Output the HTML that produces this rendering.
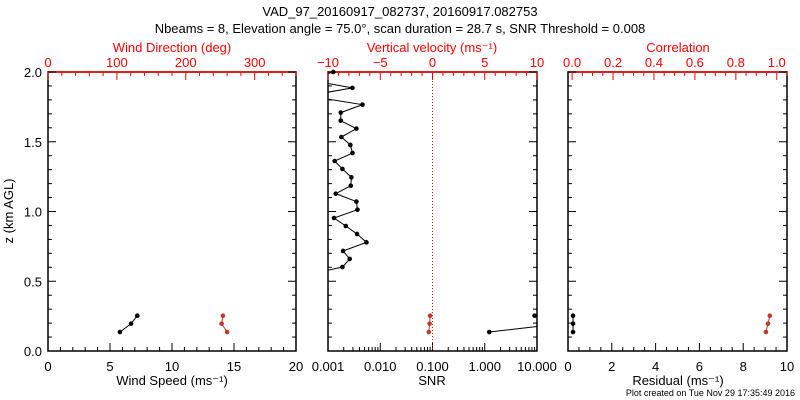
<!DOCTYPE html>
<html><head><meta charset="utf-8"><style>
body{margin:0;background:#fff;}
svg{display:block;font-family:"Liberation Sans",sans-serif;}
</style></head><body>
<svg id="c" width="800" height="400" viewBox="0 0 800 400">
<text x="400" y="16" text-anchor="middle" font-size="13">VAD_97_20160917_082737, 20160917.082753</text>
<text x="400" y="33" text-anchor="middle" font-size="13">Nbeams = 8, Elevation angle = 75.0°, scan duration = 28.7 s, SNR Threshold = 0.008</text>
<text x="795" y="396" text-anchor="end" font-size="9">Plot created on Tue Nov 29 17:35:49 2016</text>
</svg>
<script>
const heights=[0.136,0.196,0.253];
const windSpeed=[5.8,6.7,7.2];
const windDir=[260,252,254];
const snr=[1.22,30,9.0];
const snrRed=[0.085,0.088,0.09];
const residual=[0.23,0.23,0.23];
const correlation=[0.947,0.957,0.966];
const wHeights=[0.545,0.602,0.660,0.717,0.779,0.839,0.896,0.953,1.013,1.071,1.128,1.185,1.245,1.305,1.362,1.419,1.477,1.534,1.594,1.651,1.709,1.766,1.829,1.886,1.944,2.0];
const wVals=[-12,-8.62,-7.92,-8.56,-6.32,-7.22,-8.30,-9.42,-7.18,-7.28,-9.26,-7.82,-7.76,-8.62,-9.36,-7.66,-7.86,-8.72,-7.28,-8.78,-8.78,-6.70,-12,-7.66,-12,-9.5];

const svg=document.getElementById('c');
const NS='http://www.w3.org/2000/svg';
function mk(tag,attrs,name){const e=document.createElementNS(NS,tag);for(const k in attrs)e.setAttribute(k,attrs[k]);


svg.appendChild(e);return e;}
const Y0=351,Y1=72;
const yS=z=>Y0-(z/2)*(Y0-Y1);
const P=[{x0:48,x1:296},{x0:328,x1:537},{x0:568,x1:787}];
function txt(x,y,s,opt,name){const t=mk('text',Object.assign({x:x,y:y,'font-size':13,'text-anchor':'middle'},opt||{}),name);t.textContent=s;return t;}
function line(x1,y1,x2,y2,col,name,extra){return mk('line',Object.assign({x1,y1,x2,y2,stroke:col,'stroke-width':1},extra||{}),name);}

P.forEach((p,i)=>{
  mk('rect',{x:p.x0,y:Y1,width:p.x1-p.x0,height:Y0-Y1,fill:'none',stroke:'#000','stroke-width':1.5},'panel-frame-'+(i+1));
  line(p.x0,Y1,p.x1,Y1,'#f00','top-axis-line-'+(i+1),{'stroke-width':1.5});
  for(let k=0;k<=20;k++){const z=k*0.1,y=yS(z),L=(k%5==0)?8:4;
    line(p.x0,y,p.x0+L,y,'#000','y-tick');line(p.x1,y,p.x1-L,y,'#000','y-tick');}
});
for(let k=0;k<=4;k++){txt(42,yS(k*0.5)+5,(k*0.5).toFixed(1),{'text-anchor':'end'},'y-tick-label');}
txt(0,0,'z (km AGL)',{transform:'translate(13,211) rotate(-90)'},'y-axis-title');

function linAxis(p,lo,hi,maj,min,top,col,labels,fmt,name,start){
  const s=v=>p.x0+(v-lo)/(hi-lo)*(p.x1-p.x0);
  const y=top?Y1:Y0,d=top?1:-1;
  const st=(start===undefined)?lo:start;
  for(let v=st;v<=hi+1e-9;v+=min){const r=(v-st)/maj;const isM=Math.abs(r-Math.round(r))<1e-6;
    line(s(v),y,s(v),y+d*(isM?8:4),col,name+'-tick');}
  labels.forEach(v=>txt(s(v),top?Y1-5:Y0+20,fmt(v),{fill:col},name+'-label'));
  return s;
}
const sWS=linAxis(P[0],0,20,5,1,false,'#000',[0,5,10,15,20],v=>String(v),'wind-speed-axis');
const sWD=linAxis(P[0],0,360,100,20,true,'#f00',[0,100,200,300],v=>String(v),'wind-dir-axis');
const sW=linAxis(P[1],-10,10,5,1,true,'#f00',[-10,-5,0,5,10],v=>v<0?'\u2212'+(-v):String(v),'vert-vel-axis');
const sR=linAxis(P[2],0,10,2,0.5,false,'#000',[0,2,4,6,8,10],v=>String(v),'residual-axis');
const sC=linAxis(P[2],-0.02,1.05,0.2,0.05,true,'#f00',[0,0.2,0.4,0.6,0.8,1.0],v=>v.toFixed(1),'correlation-axis',0);
const p1=P[1];
const sS=v=>p1.x0+(Math.log10(v)+3)/4*(p1.x1-p1.x0);
for(let d=-3;d<1;d++){for(let m=1;m<10;m++){const v=m*Math.pow(10,d);line(sS(v),Y0,sS(v),Y0-(m==1?8:4),'#000','snr-tick');}}
line(sS(10),Y0,sS(10),Y0-8,'#000','snr-tick');
['0.001','0.010','0.100','1.000','10.000'].forEach(s=>txt(sS(parseFloat(s)),Y0+20,s,{},'snr-tick-label'));

txt(172,52,'Wind Direction (deg)',{fill:'#f00'},'wind-direction-title');
txt(432,52,'Vertical velocity (ms\u207B\u00B9)',{fill:'#f00'},'vertical-velocity-title');
txt(678,52,'Correlation',{fill:'#f00'},'correlation-title');
txt(172,385,'Wind Speed (ms\u207B\u00B9)',{},'wind-speed-title');
txt(432,385,'SNR',{},'snr-title');
txt(678,385,'Residual (ms\u207B\u00B9)',{},'residual-title');

line(sW(0),Y1,sW(0),Y0,'#f00','zero-velocity-line',{'stroke-dasharray':'1,2'});

const defs=mk('defs',{},'defs');
const cp=document.createElementNS(NS,'clipPath');cp.setAttribute('id','cp');
const cr=document.createElementNS(NS,'rect');cr.setAttribute('x',p1.x0);cr.setAttribute('y',Y1);cr.setAttribute('width',p1.x1-p1.x0);cr.setAttribute('height',Y0-Y1);
cp.appendChild(cr);defs.appendChild(cp);

function series(xs,zs,sx,col,name,clip){
  const pts=xs.map((v,i)=>[sx(v),yS(zs[i])]);
  const pl=mk('polyline',{points:pts.map(p=>p.join(',')).join(' '),fill:'none',stroke:col,'stroke-width':1},name+'-line');
  if(clip)pl.setAttribute('clip-path','url(#cp)');
  pts.forEach(p=>{const inside=!clip||(p[0]>=p1.x0&&p[0]<=p1.x1);if(inside)mk('circle',{cx:p[0],cy:p[1],r:2.3,fill:col},name+'-point');});
}
series(windSpeed,heights,sWS,'#000','wind-speed');
series(windDir,heights,sWD,'#c0392b','wind-direction');
series(wVals,wHeights,sW,'#000','vertical-velocity',true);
series(snr,heights,sS,'#000','snr',true);
series(snrRed,heights,sS,'#c0392b','snr-red');
series(residual,heights,sR,'#000','residual');
series(correlation,heights,sC,'#c0392b','correlation');
</script>
</body></html>
